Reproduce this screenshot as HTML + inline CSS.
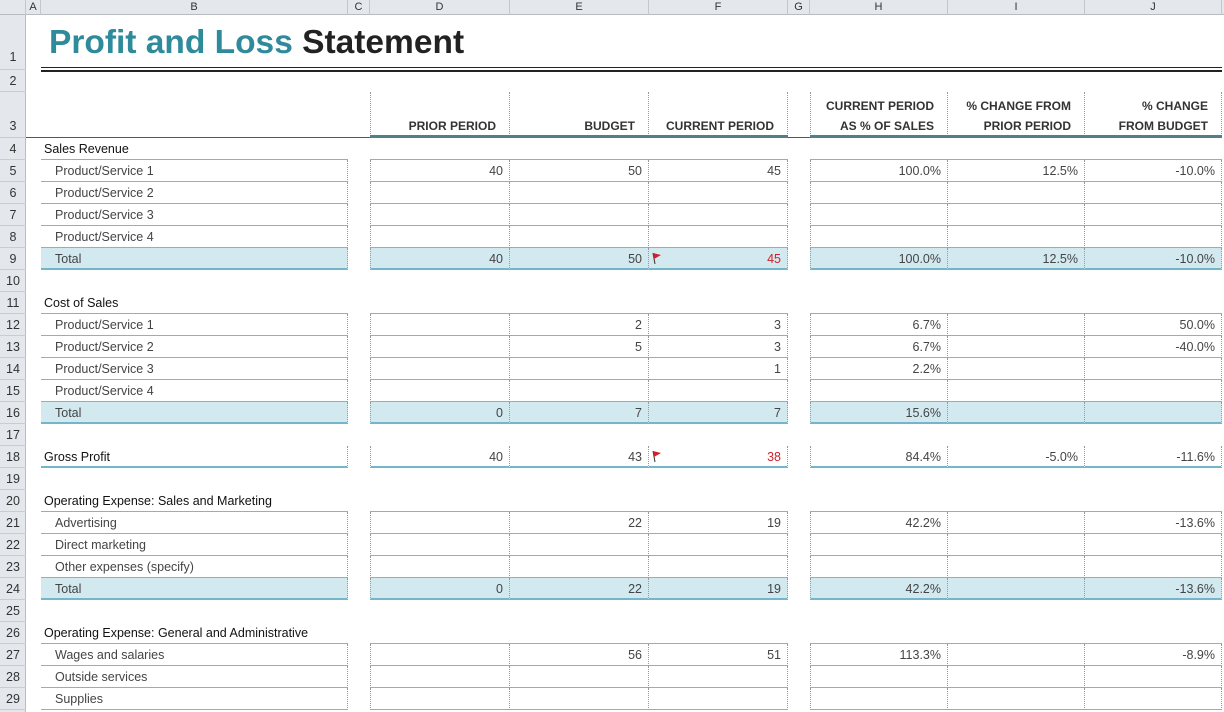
<!DOCTYPE html>
<html><head><meta charset="utf-8"><style>
*{margin:0;padding:0;box-sizing:border-box}
body{width:1224px;height:712px;overflow:hidden;background:#fff;font-family:"Liberation Sans",Arial,sans-serif;position:relative}
.colhdr{position:absolute;top:0;left:0;width:1224px;height:15px;background:#e4e7ec;border-bottom:1px solid #b8bcc2}
.colhdr span{position:absolute;top:0;height:15px;line-height:14px;font-size:11px;color:#333;text-align:center;border-right:1px solid #c4c8ce}
.rowhdr{position:absolute;left:0;top:15px;width:26px;height:697px;background:#e4e7ec;border-right:1px solid #b8bcc2}
.rn{position:absolute;left:0;width:26px;font-size:12.5px;color:#333;text-align:center;border-bottom:1px solid #c9ccd1}
.c{position:absolute;height:22px;border-bottom:1px solid #a8a8a8;line-height:22px;font-size:12.5px;color:#444;text-align:right;padding-right:6px;white-space:nowrap}
.b{left:41px;width:307px;text-align:left;padding-left:14px;border-right:1px dotted #999}
.d{left:370px;width:140px;border-left:1px dotted #999;border-right:1px dotted #999}
.e{left:510px;width:139px;border-right:1px dotted #999}
.f{left:649px;width:139px;border-right:1px dotted #999}
.h{left:810px;width:138px;border-left:1px dotted #999;border-right:1px dotted #999}
.i{left:948px;width:137px;border-right:1px dotted #999}
.j{left:1085px;width:137px;border-right:1px dotted #999}
.sec .c{border-left:none;border-right:none}
.sec .b{padding-left:3px;color:#111}
.t .c{background:#d3e9f0;border-bottom:2px solid #74b5ca}
.g .c{border-bottom:2px solid #74b5ca}
.g .b{padding-left:3px;color:#111}
.red{color:#d0202a}
.flag{position:absolute;left:3px;top:4px}
.hd{position:absolute;top:92px;height:46px;font-family:"Liberation Sans Narrow","Liberation Sans",sans-serif;font-weight:bold;font-size:12px;color:#333;text-align:right;padding-right:13px;line-height:20px;padding-top:4px;border-right:1px dotted #999}
</style></head><body>
<div class="colhdr">
<span style="left:0;width:26px"></span>
<span style="left:26px;width:15px">A</span>
<span style="left:41px;width:307px">B</span>
<span style="left:348px;width:22px">C</span>
<span style="left:370px;width:140px">D</span>
<span style="left:510px;width:139px">E</span>
<span style="left:649px;width:139px">F</span>
<span style="left:788px;width:22px">G</span>
<span style="left:810px;width:138px">H</span>
<span style="left:948px;width:137px">I</span>
<span style="left:1085px;width:137px">J</span>
</div>
<div class="rowhdr"></div>
<div class="rn" style="top:15px;height:55px;line-height:84px">1</div>
<div class="rn" style="top:70px;height:22px;line-height:22px">2</div>
<div class="rn" style="top:92px;height:46px;line-height:68px">3</div>
<div class="rn" style="top:138px;height:22px;line-height:22px">4</div>
<div class="rn" style="top:160px;height:22px;line-height:22px">5</div>
<div class="rn" style="top:182px;height:22px;line-height:22px">6</div>
<div class="rn" style="top:204px;height:22px;line-height:22px">7</div>
<div class="rn" style="top:226px;height:22px;line-height:22px">8</div>
<div class="rn" style="top:248px;height:22px;line-height:22px">9</div>
<div class="rn" style="top:270px;height:22px;line-height:22px">10</div>
<div class="rn" style="top:292px;height:22px;line-height:22px">11</div>
<div class="rn" style="top:314px;height:22px;line-height:22px">12</div>
<div class="rn" style="top:336px;height:22px;line-height:22px">13</div>
<div class="rn" style="top:358px;height:22px;line-height:22px">14</div>
<div class="rn" style="top:380px;height:22px;line-height:22px">15</div>
<div class="rn" style="top:402px;height:22px;line-height:22px">16</div>
<div class="rn" style="top:424px;height:22px;line-height:22px">17</div>
<div class="rn" style="top:446px;height:22px;line-height:22px">18</div>
<div class="rn" style="top:468px;height:22px;line-height:22px">19</div>
<div class="rn" style="top:490px;height:22px;line-height:22px">20</div>
<div class="rn" style="top:512px;height:22px;line-height:22px">21</div>
<div class="rn" style="top:534px;height:22px;line-height:22px">22</div>
<div class="rn" style="top:556px;height:22px;line-height:22px">23</div>
<div class="rn" style="top:578px;height:22px;line-height:22px">24</div>
<div class="rn" style="top:600px;height:22px;line-height:22px">25</div>
<div class="rn" style="top:622px;height:22px;line-height:22px">26</div>
<div class="rn" style="top:644px;height:22px;line-height:22px">27</div>
<div class="rn" style="top:666px;height:22px;line-height:22px">28</div>
<div class="rn" style="top:688px;height:22px;line-height:22px">29</div>

<div style="position:absolute;left:49px;top:23px;font-size:33.5px;font-weight:bold;line-height:40px;white-space:nowrap"><span style="color:#2f8a9b">Profit and Loss</span> <span style="color:#222">Statement</span></div>
<div style="position:absolute;left:41px;top:67px;width:1181px;height:5px;border-top:1px solid #222;border-bottom:2px solid #222"></div>

<div class="hd" style="left:370px;width:140px;border-left:1px dotted #999"><br>PRIOR PERIOD</div>
<div class="hd" style="left:510px;width:139px"><br>BUDGET</div>
<div class="hd" style="left:649px;width:139px"><br>CURRENT PERIOD</div>
<div class="hd" style="left:810px;width:138px;border-left:1px dotted #999">CURRENT PERIOD<br>AS % OF SALES</div>
<div class="hd" style="left:948px;width:137px">% CHANGE FROM<br>PRIOR PERIOD</div>
<div class="hd" style="left:1085px;width:137px">% CHANGE<br>FROM BUDGET</div>
<div style="position:absolute;left:26px;top:137px;width:1196px;height:1px;background:#555"></div>
<div style="position:absolute;left:370px;top:135px;width:418px;height:3px;background:#4f8187"></div>
<div style="position:absolute;left:810px;top:135px;width:412px;height:3px;background:#4f8187"></div>

<div class="sec" style="position:absolute;top:138px"><div class="c b">Sales Revenue</div><div class="c d"></div><div class="c e"></div><div class="c f"></div><div class="c h"></div><div class="c i"></div><div class="c j"></div></div>
<div style="position:absolute;top:160px"><div class="c b">Product/Service 1</div><div class="c d">40</div><div class="c e">50</div><div class="c f">45</div><div class="c h">100.0%</div><div class="c i">12.5%</div><div class="c j">-10.0%</div></div>
<div style="position:absolute;top:182px"><div class="c b">Product/Service 2</div><div class="c d"></div><div class="c e"></div><div class="c f"></div><div class="c h"></div><div class="c i"></div><div class="c j"></div></div>
<div style="position:absolute;top:204px"><div class="c b">Product/Service 3</div><div class="c d"></div><div class="c e"></div><div class="c f"></div><div class="c h"></div><div class="c i"></div><div class="c j"></div></div>
<div style="position:absolute;top:226px"><div class="c b">Product/Service 4</div><div class="c d"></div><div class="c e"></div><div class="c f"></div><div class="c h"></div><div class="c i"></div><div class="c j"></div></div>
<div class="t" style="position:absolute;top:248px"><div class="c b">Total</div><div class="c d">40</div><div class="c e">50</div><div class="c f red"><svg class="flag" width="10" height="12"><line x1="1" y1="1" x2="3" y2="12" stroke="#333" stroke-width="1"/><path d="M1 1 L9 3 L2 7Z" fill="#d0202a"/></svg>45</div><div class="c h">100.0%</div><div class="c i">12.5%</div><div class="c j">-10.0%</div></div>

<div class="sec" style="position:absolute;top:292px"><div class="c b">Cost of Sales</div><div class="c d"></div><div class="c e"></div><div class="c f"></div><div class="c h"></div><div class="c i"></div><div class="c j"></div></div>
<div style="position:absolute;top:314px"><div class="c b">Product/Service 1</div><div class="c d"></div><div class="c e">2</div><div class="c f">3</div><div class="c h">6.7%</div><div class="c i"></div><div class="c j">50.0%</div></div>
<div style="position:absolute;top:336px"><div class="c b">Product/Service 2</div><div class="c d"></div><div class="c e">5</div><div class="c f">3</div><div class="c h">6.7%</div><div class="c i"></div><div class="c j">-40.0%</div></div>
<div style="position:absolute;top:358px"><div class="c b">Product/Service 3</div><div class="c d"></div><div class="c e"></div><div class="c f">1</div><div class="c h">2.2%</div><div class="c i"></div><div class="c j"></div></div>
<div style="position:absolute;top:380px"><div class="c b">Product/Service 4</div><div class="c d"></div><div class="c e"></div><div class="c f"></div><div class="c h"></div><div class="c i"></div><div class="c j"></div></div>
<div class="t" style="position:absolute;top:402px"><div class="c b">Total</div><div class="c d">0</div><div class="c e">7</div><div class="c f">7</div><div class="c h">15.6%</div><div class="c i"></div><div class="c j"></div></div>

<div class="g" style="position:absolute;top:446px"><div class="c b">Gross Profit</div><div class="c d">40</div><div class="c e">43</div><div class="c f red"><svg class="flag" width="10" height="12"><line x1="1" y1="1" x2="3" y2="12" stroke="#333" stroke-width="1"/><path d="M1 1 L9 3 L2 7Z" fill="#d0202a"/></svg>38</div><div class="c h">84.4%</div><div class="c i">-5.0%</div><div class="c j">-11.6%</div></div>

<div class="sec" style="position:absolute;top:490px"><div class="c b">Operating Expense: Sales and Marketing</div><div class="c d"></div><div class="c e"></div><div class="c f"></div><div class="c h"></div><div class="c i"></div><div class="c j"></div></div>
<div style="position:absolute;top:512px"><div class="c b">Advertising</div><div class="c d"></div><div class="c e">22</div><div class="c f">19</div><div class="c h">42.2%</div><div class="c i"></div><div class="c j">-13.6%</div></div>
<div style="position:absolute;top:534px"><div class="c b">Direct marketing</div><div class="c d"></div><div class="c e"></div><div class="c f"></div><div class="c h"></div><div class="c i"></div><div class="c j"></div></div>
<div style="position:absolute;top:556px"><div class="c b">Other expenses (specify)</div><div class="c d"></div><div class="c e"></div><div class="c f"></div><div class="c h"></div><div class="c i"></div><div class="c j"></div></div>
<div class="t" style="position:absolute;top:578px"><div class="c b">Total</div><div class="c d">0</div><div class="c e">22</div><div class="c f">19</div><div class="c h">42.2%</div><div class="c i"></div><div class="c j">-13.6%</div></div>

<div class="sec" style="position:absolute;top:622px"><div class="c b">Operating Expense: General and Administrative</div><div class="c d"></div><div class="c e"></div><div class="c f"></div><div class="c h"></div><div class="c i"></div><div class="c j"></div></div>
<div style="position:absolute;top:644px"><div class="c b">Wages and salaries</div><div class="c d"></div><div class="c e">56</div><div class="c f">51</div><div class="c h">113.3%</div><div class="c i"></div><div class="c j">-8.9%</div></div>
<div style="position:absolute;top:666px"><div class="c b">Outside services</div><div class="c d"></div><div class="c e"></div><div class="c f"></div><div class="c h"></div><div class="c i"></div><div class="c j"></div></div>
<div style="position:absolute;top:688px"><div class="c b">Supplies</div><div class="c d"></div><div class="c e"></div><div class="c f"></div><div class="c h"></div><div class="c i"></div><div class="c j"></div></div>
</body></html>
